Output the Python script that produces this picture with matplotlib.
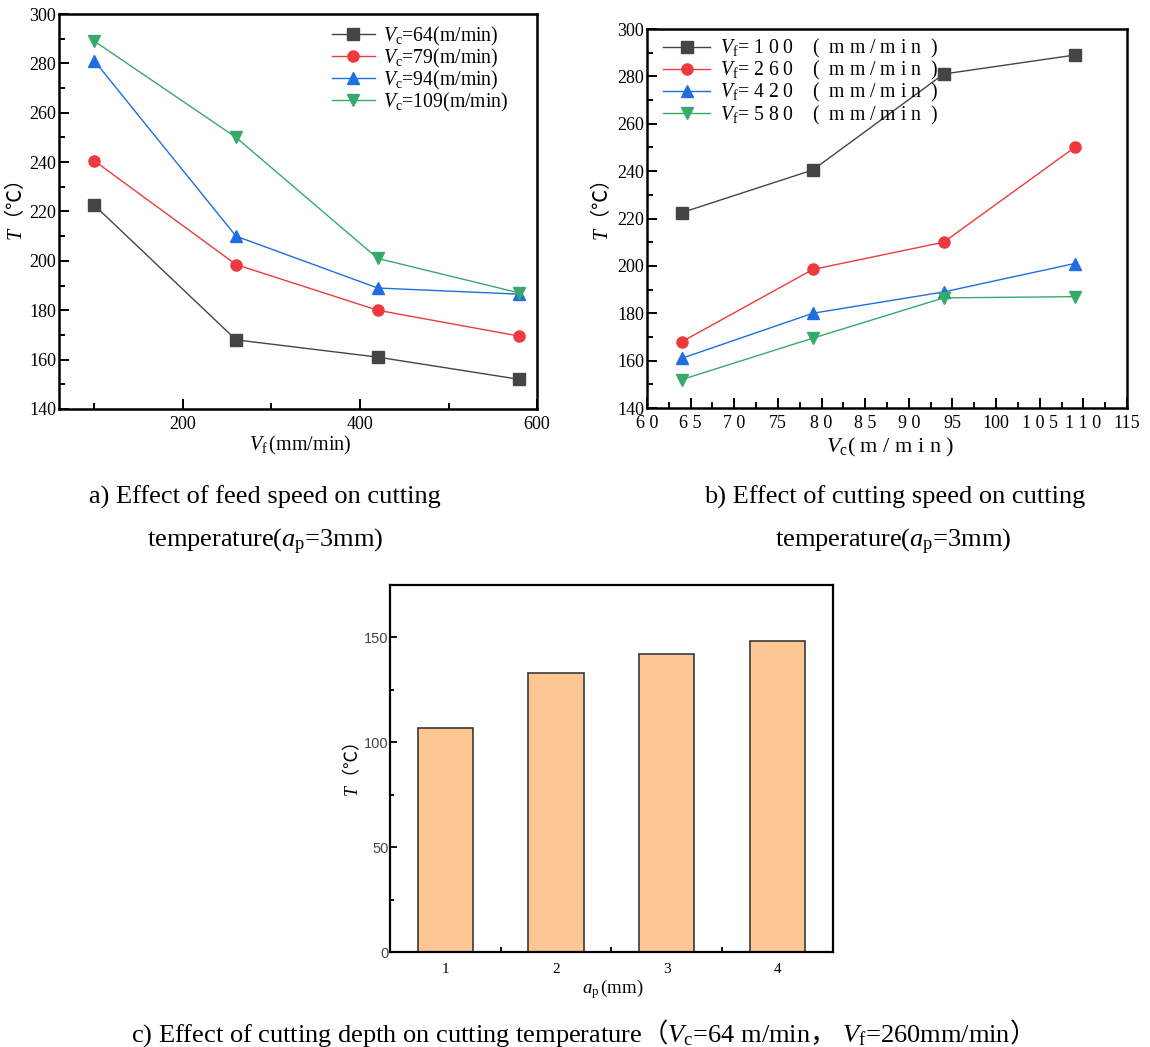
import numpy as np
import matplotlib
matplotlib.use("Agg")
import matplotlib.pyplot as plt
from matplotlib.ticker import MultipleLocator, FixedLocator, FixedFormatter

plt.rcParams['font.family'] = ['Liberation Serif', 'Noto Sans CJK SC']
plt.rcParams['mathtext.fontset'] = 'custom'
plt.rcParams['mathtext.rm'] = 'Liberation Serif'
plt.rcParams['mathtext.it'] = 'Liberation Serif:italic'
plt.rcParams['mathtext.bf'] = 'Liberation Serif:bold'
plt.rcParams['mathtext.sf'] = 'Noto Sans CJK SC'

# данные
vf_es = [100, 260, 420, 580]
vc_es = [64, 79, 94, 109]
# T[vc][vf]
t_vc64 = [222.5, 168, 161, 152]
t_vc79 = [240.5, 198.5, 180, 169.5]
t_vc94 = [281, 210, 189, 186.5]
t_vc109 = [289, 250, 201, 187]
# T[vf][vc]
t_vf100 = [222.5, 240.5, 281, 289]
t_vf260 = [168, 198.5, 210, 250]
t_vf420 = [161, 180, 189, 201]
t_vf580 = [152, 169.5, 186.5, 187]

ap_es = [1, 2, 3, 4]
t_ap = [107, 133, 142, 148.5]

vc_ticks = [60, 65, 70, 75, 80, 85, 90, 95, 100, 105, 110, 115]
vc_tick_labels = ['6 0', '6 5', '7 0', '75', '8 0', '8 5', '9 0', '95', '100', '1 0 5', '1 1 0', '115']

colors = ['#454545', '#ee3a3c', '#1f6ee0', '#36aa6a']
markers = ['s', 'o', '^', 'v']

T_LABEL = r'$T\mathsf{（℃）}$'


def style_axes(ax, width=1.8):
    for sp in ax.spines.values():
        sp.set_linewidth(width)
    ax.tick_params(which='both', direction='in', top=False, right=False, width=1.4)
    ax.tick_params(which='major', length=7, pad=2, labelsize=13)
    ax.tick_params(which='minor', length=4)


fig = plt.figure(figsize=(11.5, 10.47), dpi=100)

# a)
ax_a = fig.add_axes([0.0513, 0.6094, 0.4157, 0.3772])
for ys, vc, c, m in zip([t_vc64, t_vc79, t_vc94, t_vc109], vc_es, colors, markers):
    ax_a.plot(vf_es, ys, color=c, marker=m, markersize=8, linewidth=1,
              label=r'$V_\mathrm{c}$=%d(m/min)' % vc)
ax_a.set_xlim(60, 600)
ax_a.set_ylim(140, 300)
ax_a.xaxis.set_major_locator(MultipleLocator(200))
ax_a.xaxis.set_minor_locator(MultipleLocator(100))
ax_a.yaxis.set_major_locator(MultipleLocator(20))
ax_a.yaxis.set_minor_locator(MultipleLocator(10))
style_axes(ax_a)
ax_a.tick_params(axis='x', pad=5)
ax_a.set_xlabel(r'$V_\mathrm{f}\,$(mm/min)', fontsize=14.5)
ax_a.xaxis.set_label_coords(0.504, -0.063)
ax_a.set_ylabel(T_LABEL, fontsize=14.5)
ax_a.yaxis.set_label_coords(-0.067, 0.5)
ax_a.legend(loc='upper left', bbox_to_anchor=(0.55, 0.998), frameon=False, fontsize=14.2,
            borderpad=0, handlelength=2.2, handletextpad=0.4, labelspacing=-0.05)

# b)
ax_b = fig.add_axes([0.5626, 0.6103, 0.4174, 0.3620])
for ys, vf, c, m in zip([t_vf100, t_vf260, t_vf420, t_vf580], vf_es, colors, markers):
    lab = r'$V_\mathrm{f}$= ' + ' '.join(str(vf)) + '    (  m m / m i n  )'
    ax_b.plot(vc_es, ys, color=c, marker=m, markersize=8, linewidth=1, label=lab)
ax_b.set_xlim(60, 115)
ax_b.set_ylim(140, 300)
ax_b.xaxis.set_major_locator(FixedLocator(vc_ticks))
ax_b.xaxis.set_major_formatter(FixedFormatter(vc_tick_labels))
ax_b.xaxis.set_minor_locator(MultipleLocator(2.5))
ax_b.yaxis.set_major_locator(MultipleLocator(20))
ax_b.yaxis.set_minor_locator(MultipleLocator(10))
style_axes(ax_b)
ax_b.tick_params(axis='x', pad=5)
ax_b.set_xlabel(r'$V_\mathrm{c}$( m / m i n )', fontsize=16)
ax_b.xaxis.set_label_coords(0.506, -0.074)
ax_b.set_ylabel(T_LABEL, fontsize=14.5)
ax_b.yaxis.set_label_coords(-0.07, 0.52)
ax_b.legend(loc='upper left', bbox_to_anchor=(0.013, 1.004), frameon=False, fontsize=14.2,
            borderpad=0, handlelength=2.4, handletextpad=0.5, labelspacing=-0.05)

# c)
ax_c = fig.add_axes([0.339, 0.0907, 0.3853, 0.3506])
ax_c.bar(ap_es, t_ap, width=0.5, color='#fdc794', edgecolor='#3a3a3a', linewidth=1.2)
ax_c.set_xlim(0.5, 4.5)
ax_c.set_ylim(0, 175)
ax_c.set_xticks(ap_es)
ax_c.xaxis.set_minor_locator(FixedLocator([1.5, 2.5, 3.5]))
ax_c.yaxis.set_major_locator(MultipleLocator(50))
ax_c.yaxis.set_minor_locator(MultipleLocator(25))
for sp in ax_c.spines.values():
    sp.set_linewidth(1.6)
ax_c.tick_params(which='both', direction='in', top=False, right=False, width=1.3)
ax_c.tick_params(axis='x', which='major', length=0, pad=8, labelsize=11)
ax_c.tick_params(axis='x', which='minor', length=3.5)
ax_c.tick_params(axis='y', which='major', length=5, pad=1, labelsize=10.5, labelcolor='#444444')
ax_c.tick_params(axis='y', which='minor', length=3)
for lbl in ax_c.get_yticklabels():
    lbl.set_fontfamily('Liberation Sans')
ax_c.set_xlabel(r'$a_\mathrm{p}\,$(mm)', fontsize=13.5)
ax_c.xaxis.set_label_coords(0.503, -0.068)
ax_c.set_ylabel(T_LABEL, fontsize=13)
ax_c.yaxis.set_label_coords(-0.063, 0.496)

# подписи
cap = 19
fig.text(265 / 1150, 1 - 497 / 1047, 'a) Effect of feed speed on cutting', ha='center', va='center', fontsize=cap)
fig.text(265 / 1150, 1 - 542 / 1047, r'temperature($a_\mathrm{p}$=3mm)', ha='center', va='center', fontsize=cap)
fig.text(895 / 1150, 1 - 497 / 1047, 'b) Effect of cutting speed on cutting', ha='center', va='center', fontsize=cap)
fig.text(893 / 1150, 1 - 542 / 1047, r'temperature($a_\mathrm{p}$=3mm)', ha='center', va='center', fontsize=cap)
fig.text(575 / 1150, 1 - 1033 / 1047,
         r'c) Effect of cutting depth on cutting temperature$\mathsf{（}V_\mathrm{c}$=64 m/min$\mathsf{，}$ '
         r'$V_\mathrm{f}$=260mm/min$\mathsf{）}$',
         ha='center', va='center', fontsize=cap)

fig.savefig('out.png', dpi=100)
